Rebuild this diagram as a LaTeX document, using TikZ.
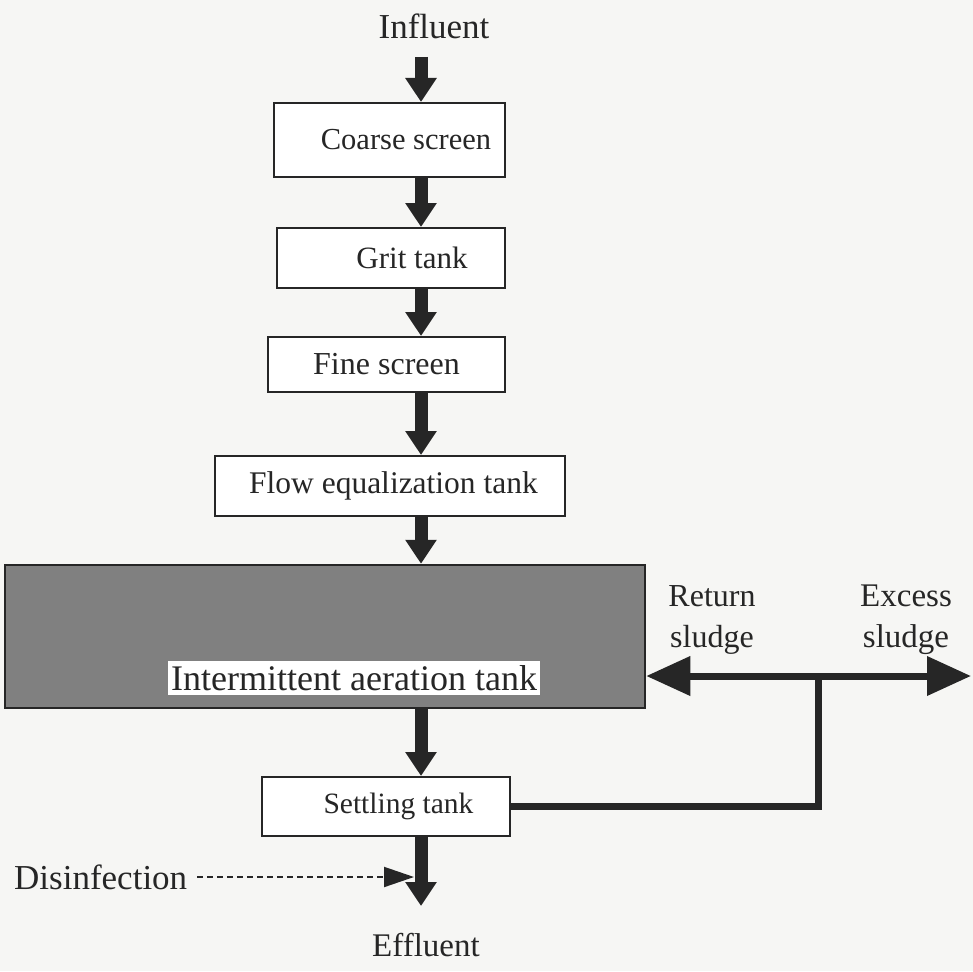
\documentclass[tikz,border=0pt]{standalone}
\usepackage{fontspec}
\setmainfont{Liberation Serif}
\usetikzlibrary{arrows.meta}
\newcommand\fsz[1]{\fontsize{#1}{41}\selectfont}
\definecolor{ink}{HTML}{262626}
\definecolor{paper}{HTML}{F6F6F4}
\definecolor{tankgray}{HTML}{808080}
\begin{document}
\begin{tikzpicture}[x=1pt,y=-1pt,
  box/.style={draw=ink,line width=2pt,fill=white,inner sep=0pt,text=ink},
  lbl/.style={inner sep=0pt,text=ink,align=center},
  flow/.style={draw=ink,line width=13pt,-{Triangle[width=30pt,length=24pt]}},
  sludge/.style={draw=ink,line width=7pt},
  sludgearrow/.style={draw=ink,line width=7pt,-{Triangle[width=38pt,length=44pt]}},
  dis/.style={draw=ink,line width=2pt,dash pattern=on 6pt off 4pt,-{Triangle[width=20pt,length=30pt]}}]
\useasboundingbox[fill=paper] (0,0) rectangle (973,971);

\node[lbl,font=\fsz{35}] (inf) at (434,26) {Influent};
\node[box,font=\fsz{30.5},minimum width=231pt,minimum height=74pt] (coarse) at (389.5,140) {\hspace*{33pt}Coarse screen};
\node[box,font=\fsz{31},minimum width=228pt,minimum height=60pt] (grit) at (391,258) {\hspace*{42pt}Grit tank};
\node[box,font=\fsz{32},minimum width=237pt,minimum height=55pt] (fine) at (386.5,364.5) {Fine screen};
\node[box,font=\fsz{31.5},minimum width=350pt,minimum height=60pt] (flow) at (390,486) {\hspace*{7pt}Flow equalization tank};
\node[draw=ink,line width=2.5pt,fill=tankgray,minimum width=640pt,minimum height=143pt,inner sep=0pt] (aer) at (325,636.5) {};
\node[fill=white,inner xsep=3pt,inner ysep=4pt,font=\fsz{36},text=ink] (aerlbl) at (354,678) {Intermittent aeration tank};
\node[box,font=\fsz{29.5},minimum width=248pt,minimum height=59pt] (settle) at (386,806.5) {\hspace*{25pt}Settling tank};
\node[lbl,font=\fsz{33}] (eff) at (426,945) {Effluent};
\node[lbl,font=\fsz{35},anchor=west] (dis) at (14,877) {Disinfection};
\node[lbl,font=\fsz{32}] (ret) at (712,620) {Return\\sludge};
\node[lbl,font=\fsz{33}] (exc) at (906,620) {Excess\\sludge};

\coordinate (j) at (818,676);
\coordinate (exend) at (971,676);
\coordinate (stemjoin) at (414,877);
\coordinate (efftip) at (421,906);

\draw[flow] (421,57) -- (coarse.north -| 421,0);
\draw[flow] (421,177) -- (grit.north -| 421,0);
\draw[flow] (421,288) -- (fine.north -| 421,0);
\draw[flow] (421,392) -- (flow.north -| 421,0);
\draw[flow] (421,516) -- (aer.north -| 421,0);
\draw[flow] (421,708) -- (settle.north -| 421,0);
\draw[flow] (settle.south -| efftip) -- (efftip);

\draw[sludge] (settle.east) -- (settle.east -| j) -- (j);
\draw[sludgearrow] (j) -- (aer.east |- j);
\draw[sludgearrow] (j) -- (exend);
\draw[dis] (197,877) -- (stemjoin);
\end{tikzpicture}
\end{document}
